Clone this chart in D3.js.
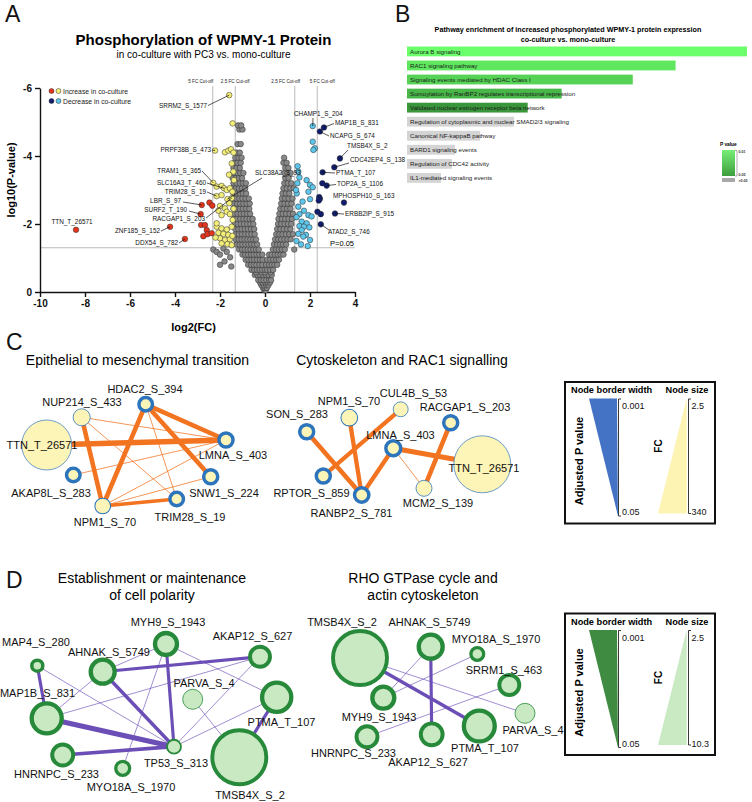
<!DOCTYPE html>
<html><head><meta charset="utf-8">
<script src="https://cdn.jsdelivr.net/npm/d3@7"></script>
<style>
body{margin:0;background:#fff}
svg{display:block}
text{font-family:"Liberation Sans",Arial,sans-serif}
</style>
</head><body>
<svg id="c" width="752" height="802"></svg>
<script>
// ================= DATA =================
// Panel A: volcano (x = log2(FC), y = log10(P-value))
const increaseStrong = [[-8.4,-1.83],[-4.22,-1.92],[-3.56,-1.56],[-2.81,-2.56],[-2.86,-2.29],[-2.47,-2.63],[-2.34,-2.54],
  [-2.84,-1.97],[-2.67,-1.97],[-2.59,-1.82],[-2.74,-1.64],[-2.56,-1.7],[-2.37,-1.73]];
const increaseMod = [[-1.59,-5.79],[-1.44,-4.96],[-2.22,-4.16],[-1.78,-4.11],[-1.63,-4.16],[-1.51,-4.2],[-1.48,-3.78],
  [-2.3,-3.21],[-2.15,-3.1],[-1.93,-3.12],[-1.82,-3.05],[-1.7,-3.0],[-1.56,-3.05],[-2.15,-2.82],[-1.93,-2.85],
  [-1.67,-2.73],[-1.48,-2.76],[-2.0,-2.53],[-1.78,-2.46],[-2.07,-2.39],[-1.7,-2.36],[-1.93,-2.26],[-1.56,-2.29],
  [-2.15,-1.92],[-1.93,-1.87],[-1.7,-1.84],[-1.48,-1.92],[-2.07,-1.74],[-1.85,-1.71],[-1.63,-1.68],[-2.0,-1.58],
  [-1.78,-1.53],[-1.56,-1.55],[-1.93,-1.43],[-1.67,-1.41],[-1.48,-1.38],[-2.15,-2.02],[-1.44,-2.12],[-1.59,-2.61],
  [-1.41,-3.54],[-1.38,-3.29],[-1.4,-4.1],[-1.6,-3.45],[-1.45,-2.95],[-1.4,-2.45],[-2.2,-1.6],[-1.45,-1.65]];
const decreaseMod = [[2.12,-4.88],[2.12,-4.42],[2.22,-4.23],[2.15,-4.18],[1.48,-3.54],[1.53,-3.37],[1.44,-3.2],
  [1.85,-3.29],[2.0,-3.15],[2.12,-3.08],[1.41,-2.9],[1.93,-2.95],[2.0,-2.73],[1.67,-2.66],[1.48,-2.51],[1.73,-2.39],
  [1.53,-2.29],[1.93,-2.26],[2.07,-2.22],[1.63,-2.07],[1.85,-2.02],[1.53,-1.94],[1.73,-1.92],[1.97,-1.9],[1.63,-1.82],
  [1.48,-1.71],[1.82,-1.68],[2.0,-1.53],[1.7,-1.63],[1.45,-3.7],[1.38,-3.0],[1.4,-2.2],[1.4,-1.5],[1.6,-1.4],[1.9,-1.35]];
const decreaseStrong = [[2.62,-4.84],[2.44,-4.72],[3.33,-3.93],[3.08,-3.67],[2.56,-3.52],[2.55,-3.2],[2.74,-3.13],
  [3.51,-2.63],[2.41,-2.79],[2.44,-2.74],[2.39,-2.69],[3.11,-2.31],[2.33,-2.36],[2.48,-2.29],[2.48,-1.99]];
// non-significant points, listed by row: [log10 P, [log2 FC values]]
const unchangedRows = [
 [-0.05,[-0.03,0.03]],
 [-0.12,[-0.09,0.0,0.08]],
 [-0.2,[-0.16,-0.05,0.06,0.15]],
 [-0.28,[-0.22,-0.1,0.02,0.12,0.22]],
 [-0.35,[-0.3,-0.18,-0.06,0.06,0.18,0.27]],
 [-0.5,[-0.45,-0.33,-0.21,-0.09,0.05,0.17,0.3]],
 [-0.58,[-0.4,-0.15,0.0,0.25]],
 [-0.65,[-0.6,-0.48,-0.36,-0.24,-0.12,0.0,0.1,0.23,0.36]],
 [-0.8,[-0.75,-0.62,-0.5,-0.38,-0.25,-0.12,0.05,0.18,0.3,0.42,0.54]],
 [-0.95,[-0.86,-0.73,-0.6,-0.48,-0.35,-0.22,-0.1,0.1,0.24,0.37,0.5,0.62]],
 [-1.1,[-1.0,-0.88,-0.75,-0.62,-0.5,-0.37,-0.25,-0.12,0.18,0.3,0.44,0.57,0.7,0.82]],
 [-1.25,[-1.15,-1.02,-0.9,-0.77,-0.64,-0.52,-0.4,-0.28,0.35,0.49,0.62,0.75,0.88,1.3]],
 [-1.4,[-1.26,-1.13,-1.0,-0.87,-0.74,-0.61,-0.48,-0.35,0.4,0.54,0.67,0.8,0.94]],
 [-1.55,[-1.3,-1.17,-1.04,-0.91,-0.78,-0.65,-0.52,-0.4,0.45,0.59,0.72,0.86,1.0,1.14]],
 [-1.7,[-1.3,-1.16,-1.02,-0.88,-0.74,-0.6,-0.46,0.5,0.64,0.78,0.93,1.08,1.24]],
 [-1.85,[-1.32,-1.18,-1.04,-0.9,-0.76,-0.62,-0.48,0.54,0.68,0.83,0.98,1.13]],
 [-2.0,[-1.35,-1.21,-1.07,-0.93,-0.79,-0.65,-0.52,0.58,0.72,0.87,1.02,1.17]],
 [-2.15,[-1.38,-1.24,-1.1,-0.96,-0.82,-0.68,-0.55,0.6,0.75,0.9,1.05,1.2]],
 [-2.3,[-1.36,-1.22,-1.08,-0.94,-0.8,-0.66,0.64,0.79,0.94,1.09,1.24]],
 [-2.45,[-1.4,-1.26,-1.12,-0.98,-0.84,-0.7,0.68,0.83,0.98,1.13]],
 [-2.6,[-1.38,-1.24,-1.1,-0.96,-0.82,-0.68,0.72,0.87,1.02,1.18]],
 [-2.75,[-1.42,-1.28,-1.14,-1.0,-0.86,-0.72,0.75,0.9,1.05,1.22]],
 [-2.9,[-1.4,-1.26,-1.12,-0.98,-0.84,0.78,0.93,1.08]],
 [-3.05,[-1.44,-1.3,-1.16,-1.02,-0.88,0.82,0.97,1.13,1.28]],
 [-3.2,[-1.4,-1.26,-1.12,-0.98,-0.85,0.86,1.01,1.17]],
 [-3.35,[-1.44,-1.3,-1.16,-1.02,0.9,1.05]],
 [-3.5,[-1.38,-1.24,-1.1,-0.96,0.86,1.0,1.14]],
 [-3.65,[-1.4,-1.26,-1.12,0.9,1.04]],
 [-3.8,[-1.36,-1.22,-1.08,0.82,0.96]],
 [-3.95,[-1.32,-1.18,-1.04,0.85]],
 [-4.1,[-1.26,-1.12]],
 [-4.35,[-1.22,-1.08]],
 [-4.78,[-1.14,-1.0]],
 [-4.9,[-1.2,-1.06]]
];
const unchangedExtra = [[-2.3,-1.25],[-2.15,-1.18],[-2.0,-1.1],[-1.85,-1.28],[-1.7,-1.18],[-1.55,-1.02],[-2.0,-0.8],[-1.8,-0.9],[-1.5,-0.75]];
const cutoffFC = [-5,-2.5,2.5,5];
const cutoffNames = ["5 FC Cut-off","2.5 FC Cut-off","2.5 FC Cut-off","5 FC Cut-off"];
const pThreshold = 0.05;
const xTicksA = [-10,-8,-6,-4,-2,0,2,4];
const yTicksA = [0,-2,-4,-6];
const volcanoLabels = [
 ["SRRM2_S_1577",-1.59,-5.79],["PRPF38B_S_473",-2.22,-4.16],["TRAM1_S_365",-2.3,-3.21],
 ["SLC16A3_T_460",-1.82,-3.05],["TRIM28_S_19",-2.15,-2.82],["LBR_S_97",-2.81,-2.56],
 ["SURF2_T_190",-2.86,-2.29],["RACGAP1_S_203",-1.48,-2.76],["ZNF185_S_152",-4.22,-1.92],
 ["DDX54_S_782",-3.56,-1.56],["TTN_T_26571",-8.4,-1.83],["SLC38A2_S_93",-1.67,-2.73],
 ["CHAMP1_S_204",2.12,-4.88],["MAP1B_S_831",2.62,-4.84],["NCAPG_S_674",2.44,-4.72],
 ["TMSB4X_S_2",3.33,-3.93],["CDC42EP4_S_138",3.08,-3.67],["PTMA_T_107",2.56,-3.52],
 ["TOP2A_S_1106",2.74,-3.13],["MPHOSPH10_S_163",3.51,-2.63],["ERBB2IP_S_915",3.11,-2.31],
 ["ATAD2_S_746",2.48,-1.99]
];

// Panel B: pathway enrichment
const pathways = ["Aurora B signaling","RAC1 signaling pathway","Signaling events mediated by HDAC Class I",
 "Sumoylation by RanBP2 regulates transcriptional repression","Validated nuclear estrogen receptor beta network",
 "Regulation of cytoplasmic and nuclear SMAD2/3 signaling","Canonical NF-kappaB pathway","BARD1 signaling events",
 "Regulation of CDC42 activity","IL1-mediated signaling events"];
const enrichScore = [10,7.9,6.64,4.55,3.55,3.15,2.15,1.41,1.32,1.0];
const enrichP = [0.002,0.012,0.02,0.032,0.045,0.08,0.1,0.15,0.16,0.2];

// Panel C networks
const emtNodes = ["HDAC2_S_394","NUP214_S_433","TTN_T_26571","LMNA_S_403","AKAP8L_S_283","SNW1_S_224","NPM1_S_70","TRIM28_S_19"];
const emtFC = [2.9,4.6,340,3.1,2.9,3.1,3.8,2.9];
const emtPadj = [0.0015,0.04,0.045,0.0015,0.0015,0.0015,0.03,0.0015];
const emtEdges = [["TTN_T_26571","LMNA_S_403",0.9],["NUP214_S_433","NPM1_S_70",0.75],["HDAC2_S_394","NPM1_S_70",0.75],
 ["HDAC2_S_394","LMNA_S_403",0.75],["HDAC2_S_394","SNW1_S_224",0.75],["NPM1_S_70","TRIM28_S_19",0.6],
 ["NUP214_S_433","LMNA_S_403",0.08],["NUP214_S_433","TRIM28_S_19",0.08],["HDAC2_S_394","TRIM28_S_19",0.08],
 ["AKAP8L_S_283","LMNA_S_403",0.08],["NPM1_S_70","LMNA_S_403",0.08],["NPM1_S_70","SNW1_S_224",0.08]];
const racNodes = ["SON_S_283","NPM1_S_70","CUL4B_S_53","RACGAP1_S_203","LMNA_S_403","TTN_T_26571","RPTOR_S_859","RANBP2_S_781","MCM2_S_139"];
const racFC = [2.8,3.8,3.1,2.8,3.1,340,2.8,2.9,3.5];
const racPadj = [0.0015,0.03,0.04,0.0015,0.0015,0.045,0.0015,0.0015,0.04];
const racEdges = [["SON_S_283","RANBP2_S_781",0.75],["NPM1_S_70","RANBP2_S_781",0.7],["CUL4B_S_53","RPTOR_S_859",0.7],
 ["LMNA_S_403","RANBP2_S_781",0.7],["LMNA_S_403","TTN_T_26571",0.85],["RACGAP1_S_203","MCM2_S_139",0.75],
 ["LMNA_S_403","MCM2_S_139",0.08]];

// Panel D networks
const polNodes = ["MYH9_S_1943","MAP4_S_280","AHNAK_S_5749","AKAP12_S_627","PARVA_S_4","MAP1B_S_831","PTMA_T_107","TP53_S_313","HNRNPC_S_233","MYO18A_S_1970","TMSB4X_S_2"];
const polFC = [4.63,2.68,4.98,4.27,4.27,6.05,5.9,3.2,4.45,3.2,10.3];
const polPadj = [0.0012,0.0028,0.0012,0.0018,0.045,0.0012,0.0012,0.016,0.0018,0.0035,0.0018];
const polEdges = [["MAP1B_S_831","TP53_S_313",0.85],["MAP4_S_280","MAP1B_S_831",0.5],["AHNAK_S_5749","TP53_S_313",0.55],
 ["MYH9_S_1943","TP53_S_313",0.5],["AHNAK_S_5749","AKAP12_S_627",0.5],["HNRNPC_S_233","TP53_S_313",0.6],
 ["PTMA_T_107","TMSB4X_S_2",0.5],["MAP4_S_280","TP53_S_313",0.06],["MAP1B_S_831","AHNAK_S_5749",0.06],
 ["MAP1B_S_831","AKAP12_S_627",0.06],["AHNAK_S_5749","MYH9_S_1943",0.06],["MYH9_S_1943","PTMA_T_107",0.06],
 ["MYH9_S_1943","MYO18A_S_1970",0.06],["TP53_S_313","AKAP12_S_627",0.06],["TP53_S_313","PTMA_T_107",0.06],
 ["PARVA_S_4","TMSB4X_S_2",0.06]];
const rhoNodes = ["TMSB4X_S_2","AHNAK_S_5749","MYO18A_S_1970","SRRM1_S_463","PARVA_S_4","PTMA_T_107","AKAP12_S_627","MYH9_S_1943","HNRNPC_S_233"];
const rhoFC = [10.3,4.98,3.0,4.27,4.27,6.2,4.6,4.63,4.45];
const rhoPadj = [0.0018,0.0012,0.0035,0.0018,0.045,0.0012,0.0018,0.0012,0.0018];
const rhoEdges = [["TMSB4X_S_2","PTMA_T_107",0.55],["AHNAK_S_5749","AKAP12_S_627",0.5],["AHNAK_S_5749","MYH9_S_1943",0.06],
 ["MYO18A_S_1970","MYH9_S_1943",0.06],["SRRM1_S_463","HNRNPC_S_233",0.06],["TMSB4X_S_2","PARVA_S_4",0.06]];

// ================= LAYOUT (pixel positions: node cx, cy, label x, label baseline) =================
const layEMT = {"HDAC2_S_394":[145.7,404.3,145,393],"NUP214_S_433":[81.7,417.3,82,406],"TTN_T_26571":[46.7,445,42,449],
 "LMNA_S_403":[226,440,233,459],"AKAP8L_S_283":[73.3,475,51,497],"SNW1_S_224":[210.7,476.7,224,497],
 "NPM1_S_70":[102.7,506,105,525.5],"TRIM28_S_19":[176.7,499,190,520.5]};
const layRAC = {"SON_S_283":[306.7,431.7,297,418],"NPM1_S_70":[349.3,417.7,349,405],"CUL4B_S_53":[400.7,409.3,413.5,397],
 "RACGAP1_S_203":[450.7,422.7,465,411],"LMNA_S_403":[393.3,448.3,400.5,439],"TTN_T_26571":[482.3,464.3,484,472],
 "RPTOR_S_859":[323.3,476,311.5,497],"RANBP2_S_781":[361.7,495,351.5,517],"MCM2_S_139":[424,488.3,438,507]};
const layPOL = {"MYH9_S_1943":[166,644,168,625.7],"MAP4_S_280":[37.3,665.7,36,645.7],"AHNAK_S_5749":[102.7,671.7,109,655.7],
 "AKAP12_S_627":[260,656.7,252.5,640],"PARVA_S_4":[192.7,699.3,204,686.7],"MAP1B_S_831":[46.7,718.3,37.5,696.7],
 "PTMA_T_107":[276.7,697.3,281.5,725.7],"TP53_S_313":[174,746.7,176,767.3],"HNRNPC_S_233":[62.7,755,56.5,778],
 "MYO18A_S_1970":[122.7,768.3,131,791.3],"TMSB4X_S_2":[239.3,757.3,250,799]};
const layRHO = {"TMSB4X_S_2":[360,658,342,626],"AHNAK_S_5749":[430.7,646.7,429.5,625.7],"MYO18A_S_1970":[477.3,654,496,643.3],
 "SRRM1_S_463":[509.3,685,504,674],"PARVA_S_4":[525,713.3,533,734],"PTMA_T_107":[479.3,726,485,752.3],
 "AKAP12_S_627":[431.7,734.3,428,765.7],"MYH9_S_1943":[383.3,697.7,379,721],"HNRNPC_S_233":[367,736.7,353.5,757]};
// volcano label layout: [text x, baseline, anchor, leader start x, leader start y] (null = no leader)
const volLabelLay = {
 "SRRM2_S_1577":[207,108,"end",208,105.5],"PRPF38B_S_473":[211,152,"end",212,150],"TRAM1_S_365":[201,173,"end",202,171],
 "SLC16A3_T_460":[206,185,"end",207,183],"TRIM28_S_19":[206,194,"end",207,192],"LBR_S_97":[181,203,"end",183,202],
 "SURF2_T_190":[187,212,"end",189,211],"RACGAP1_S_203":[205,221,"end",206,218],"ZNF185_S_152":[160,233,"end",161,231],
 "DDX54_S_782":[178,245,"end",179,243],"TTN_T_26571":[72,224,"middle",null,null],"SLC38A2_S_93":[255,175,"start",262,178],
 "CHAMP1_S_204":[294,116,"start",313,118],"MAP1B_S_831":[335,125,"start",334,123.5],"NCAPG_S_674":[330,138,"start",329,136],
 "TMSB4X_S_2":[347,148,"start",348,150],"CDC42EP4_S_138":[350,162,"start",349,163],"PTMA_T_107":[336,175,"start",335,173],
 "TOP2A_S_1106":[337,186,"start",336,184.5],"MPHOSPH10_S_163":[333,198,"start",null,null],
 "ERBB2IP_S_915":[345,216,"start",344,214],"ATAD2_S_746":[328,234,"start",329,230]};

// ================= DRAW =================
const svg = d3.select("#c");
svg.append("rect").attr("width",752).attr("height",802).attr("fill","#fff");

// panel letters
[["A",5,22],["B",395,22],["C",6,350],["D",6,588]].forEach(([t,x,y])=>{
  svg.append("text").attr("x",x).attr("y",y).attr("font-size",23).attr("fill","#111").text(t);
});

// ---------- Panel A ----------
const gA = svg.append("g");
const xV = d3.scaleLinear().domain([-10,4]).range([40,355]);
const yV = d3.scaleLinear().domain([0,-6]).range([292,88]);

gA.append("text").attr("x",203.5).attr("y",45).attr("text-anchor","middle").attr("font-size",15)
  .attr("font-weight","bold").text("Phosphorylation of WPMY-1 Protein");
gA.append("text").attr("x",203.5).attr("y",57.5).attr("text-anchor","middle").attr("font-size",10)
  .text("in co-culture with PC3 vs. mono-culture");

// cut-off lines
cutoffFC.forEach((f,i)=>{
  const lx = xV(Math.sign(f)*Math.log2(Math.abs(f)));
  gA.append("line").attr("x1",lx).attr("x2",lx).attr("y1",86).attr("y2",292).attr("stroke","#a8a8a8").attr("stroke-width",0.8);
  const off = [-12,0,-9,5][i];
  gA.append("text").attr("x",lx+off).attr("y",83).attr("text-anchor","middle").attr("font-size",4.6)
    .attr("fill","#222").text(cutoffNames[i]);
});
// p line
gA.append("line").attr("x1",40).attr("x2",355).attr("y1",yV(Math.log10(pThreshold))).attr("y2",yV(Math.log10(pThreshold)))
  .attr("stroke","#a8a8a8").attr("stroke-width",0.8);
gA.append("text").attr("x",330).attr("y",yV(Math.log10(pThreshold))-2).attr("font-size",7.5).text("P=0.05");

// axes
const axX = gA.append("g").attr("transform","translate(0,292)")
  .call(d3.axisBottom(xV).tickValues(xTicksA).tickSize(5).tickSizeOuter(0).tickFormat(d=>String(d)));
const axY = gA.append("g").attr("transform","translate(40,0)")
  .call(d3.axisLeft(yV).tickValues(yTicksA).tickSize(5).tickSizeOuter(0).tickFormat(d=>String(d)));
[axX,axY].forEach(a=>{
  a.selectAll("path,line").attr("stroke","#111").attr("stroke-width",1.4);
  a.selectAll("text").attr("font-size",10).attr("font-weight","bold").attr("fill","#111")
    .attr("font-family",'"Liberation Sans",Arial,sans-serif');
});
gA.append("text").attr("x",193.5).attr("y",331).attr("text-anchor","middle").attr("font-size",11)
  .attr("font-weight","bold").text("log2(FC)");
gA.append("text").attr("transform","translate(15,180) rotate(-90)").attr("text-anchor","middle")
  .attr("font-size",11).attr("font-weight","bold").text("log10(P-value)");

// points
const unchanged = [];
unchangedRows.forEach(([p,xs])=>xs.forEach(x=>unchanged.push([x,p])));
unchangedExtra.forEach(d=>unchanged.push(d));
function drawPts(data, fill){
  gA.append("g").selectAll("circle").data(data).join("circle")
    .attr("cx",d=>xV(d[0])).attr("cy",d=>yV(d[1])).attr("r",2.8)
    .attr("fill",fill).attr("stroke","#2a2a2a").attr("stroke-width",0.5);
}
drawPts(unchanged,"#888888");
drawPts(increaseMod,"#f3ee78");
drawPts(decreaseMod,"#5ec6ea");
drawPts(increaseStrong,"#e4341c");
drawPts(decreaseStrong,"#101c6c");

// labels
const gL = gA.append("g");
volcanoLabels.forEach(([name,fx,py])=>{
  const l = volLabelLay[name];
  if (l[3]!==null) {
    gL.append("line").attr("x1",l[3]).attr("y1",l[4]).attr("x2",xV(fx)).attr("y2",yV(py))
      .attr("stroke","#111").attr("stroke-width",0.7);
  }
  gL.append("text").attr("x",l[0]).attr("y",l[1]).attr("text-anchor",l[2]).attr("font-size",6.4)
    .attr("fill","#111").text(name);
});

// legend A
const legA = gA.append("g");
[[["#e4341c","#f3ee78"],"Increase in co-culture",91],[["#101c6c","#5ec6ea"],"Decrease in co-culture",101]].forEach(([cols,t,y])=>{
  cols.forEach((c,i)=>legA.append("circle").attr("cx",51.5+i*7).attr("cy",y).attr("r",2.5)
    .attr("fill",c).attr("stroke","#2a2a2a").attr("stroke-width",0.5));
  legA.append("text").attr("x",63).attr("y",y+2.5).attr("font-size",6.8).attr("fill","#222").text(t);
});

// ---------- Panel B ----------
const gB = svg.append("g");
gB.append("text").attr("x",568).attr("y",32).attr("text-anchor","middle").attr("font-size",7.2)
  .attr("font-weight","bold").text("Pathway enrichment of increased phosphorylated WPMY-1 protein expression");
gB.append("text").attr("x",568).attr("y",41.5).attr("text-anchor","middle").attr("font-size",7.2)
  .attr("font-weight","bold").text("co-culture vs. mono-culture");
const xB = d3.scaleLinear().domain([0,10]).range([407,747]);
const yB = d3.scaleBand().domain(pathways).range([46.5,182.8]).paddingInner(0.3).paddingOuter(0);
const colB = d3.scaleLinear().domain([0.002,0.045]).range(["#6bff6b","#3a963a"]).clamp(true);
pathways.forEach((p,i)=>{
  gB.append("rect").attr("x",xB(0)).attr("y",yB(p)).attr("width",xB(enrichScore[i])-xB(0))
    .attr("height",yB.bandwidth()).attr("fill",enrichP[i]<=0.05?colB(enrichP[i]):"#d4d4d4");
  gB.append("text").attr("x",xB(0)+3).attr("y",yB(p)+yB.bandwidth()/2+2.2).attr("font-size",6.2)
    .attr("font-family",'"DejaVu Sans",sans-serif').attr("fill","#1a1a1a").text(p);
});
// P value legend
const defs = svg.append("defs");
const grad = defs.append("linearGradient").attr("id","gB").attr("x1",0).attr("x2",0).attr("y1",0).attr("y2",1);
grad.append("stop").attr("offset","0%").attr("stop-color","#76ee76");
grad.append("stop").attr("offset","100%").attr("stop-color","#3e9e3e");
gB.append("text").attr("x",720).attr("y",146).attr("font-size",4.8).attr("font-weight","bold").text("P value");
gB.append("rect").attr("x",722).attr("y",150).attr("width",13).attr("height",26).attr("fill","url(#gB)");
gB.append("path").attr("d","M735,150.5H737V176H735").attr("fill","none").attr("stroke","#555").attr("stroke-width",0.5);
gB.append("rect").attr("x",722).attr("y",178).attr("width",13).attr("height",4).attr("fill","#a8a8a8");
[["0.01",152.5],["0.05",176],[">0.05",181.5]].forEach(([t,y])=>gB.append("text").attr("x",738.5).attr("y",y)
  .attr("font-size",3.6).attr("font-weight","bold").attr("fill","#333").text(t));

// ---------- Networks ----------
const eW = d3.scaleLinear().domain([0,1]).range([0.3,6]);
function drawNet(names, fc, padj, edges, lay, rScale, wScale, fill, stroke, ecol){
  const g = svg.append("g");
  const nodes = names.map((n,i)=>({id:n,fc:fc[i],p:padj[i],x:lay[n][0],y:lay[n][1],lx:lay[n][2],ly:lay[n][3]}));
  const by = new Map(nodes.map(d=>[d.id,d]));
  const es = edges.slice().sort((a,b)=>a[2]-b[2]);
  g.selectAll("line").data(es).join("line")
    .attr("x1",d=>by.get(d[0]).x).attr("y1",d=>by.get(d[0]).y)
    .attr("x2",d=>by.get(d[1]).x).attr("y2",d=>by.get(d[1]).y)
    .attr("stroke",ecol).attr("stroke-width",d=>eW(d[2]));
  g.selectAll("circle").data(nodes).join("circle")
    .attr("cx",d=>d.x).attr("cy",d=>d.y).attr("r",d=>rScale(d.fc))
    .attr("fill",fill).attr("stroke",stroke).attr("stroke-width",d=>wScale(d.p));
  g.selectAll("text").data(nodes).join("text")
    .attr("x",d=>d.lx).attr("y",d=>d.ly).attr("text-anchor","middle").attr("font-size",11)
    .attr("fill","#111").text(d=>d.id);
}
const rC1 = d3.scaleLog().domain([2.5,340]).range([6.2,25]);
const rC2 = d3.scaleLog().domain([2.5,340]).range([6.5,28.5]);
const wC = d3.scaleLog().domain([0.001,0.05]).range([3.8,0.6]);
const rD = d3.scaleLinear().domain([2.5,10.3]).range([5,27]);
const wD = d3.scaleLog().domain([0.001,0.05]).range([4.5,0.7]);

// titles
svg.append("text").attr("x",137.5).attr("y",365).attr("text-anchor","middle").attr("font-size",14)
  .text("Epithelial to mesenchymal transition");
svg.append("text").attr("x",402).attr("y",365).attr("text-anchor","middle").attr("font-size",14)
  .text("Cytoskeleton and RAC1 signalling");
[["Establishment or maintenance",152,583],["of cell polarity",152,600],["RHO GTPase cycle and",423,583],["actin cytoskeleton",423,600]]
  .forEach(([t,x,y])=>svg.append("text").attr("x",x).attr("y",y).attr("text-anchor","middle").attr("font-size",14).text(t));

drawNet(emtNodes,emtFC,emtPadj,emtEdges,layEMT,rC1,wC,"#fdf4b8","#2c74bb","#f27320");
drawNet(racNodes,racFC,racPadj,racEdges,layRAC,rC2,wC,"#fdf4b8","#2c74bb","#f27320");
drawNet(polNodes,polFC,polPadj,polEdges,layPOL,rD,wD,"#c8e9c2","#27893a","#6c4fb6");
drawNet(rhoNodes,rhoFC,rhoPadj,rhoEdges,layRHO,rD,wD,"#c8e9c2","#27893a","#6c4fb6");

// ---------- Legends C & D ----------
function legend(y0, triCol, sizeCol, fcMin, fcMax){
  const g = svg.append("g").attr("transform",`translate(0,${y0})`);
  g.append("rect").attr("x",565).attr("y",0).attr("width",150).attr("height",141.5)
    .attr("fill","#fff").attr("stroke","#111").attr("stroke-width",2);
  g.append("text").attr("x",571).attr("y",11).attr("font-size",9.2).attr("font-weight","bold").text("Node border width");
  g.append("text").attr("x",665.5).attr("y",11).attr("font-size",9.2).attr("font-weight","bold").text("Node size");
  g.append("path").attr("d","M589,16.5H617L618,134Z").attr("fill",triCol);
  g.append("path").attr("d","M686.7,16.5V131.5H658Z").attr("fill",sizeCol);
  g.append("path").attr("d","M621,17H618.5V134H621").attr("fill","none").attr("stroke","#222").attr("stroke-width",0.9);
  g.append("path").attr("d","M691,17H688.5V131.5H691").attr("fill","none").attr("stroke","#222").attr("stroke-width",0.9);
  [["0.001",622,27],["0.05",622,133],[fcMin,691.5,27],[fcMax,691.5,133]].forEach(([t,x,y])=>
    g.append("text").attr("x",x).attr("y",y).attr("font-size",9).attr("fill","#111").text(t));
  g.append("text").attr("transform","translate(583,79) rotate(-90)").attr("text-anchor","middle")
    .attr("font-size",11).attr("font-weight","bold").text("Adjusted P value");
  g.append("text").attr("transform","translate(661.5,64) rotate(-90)").attr("text-anchor","middle")
    .attr("font-size",10).attr("font-weight","bold").text("FC");
}
legend(382,"#4472c4","#fdf3b2","2.5","340");
legend(613.5,"#3e8b41","#c9eac2","2.5","10.3");
</script>
</body></html>
